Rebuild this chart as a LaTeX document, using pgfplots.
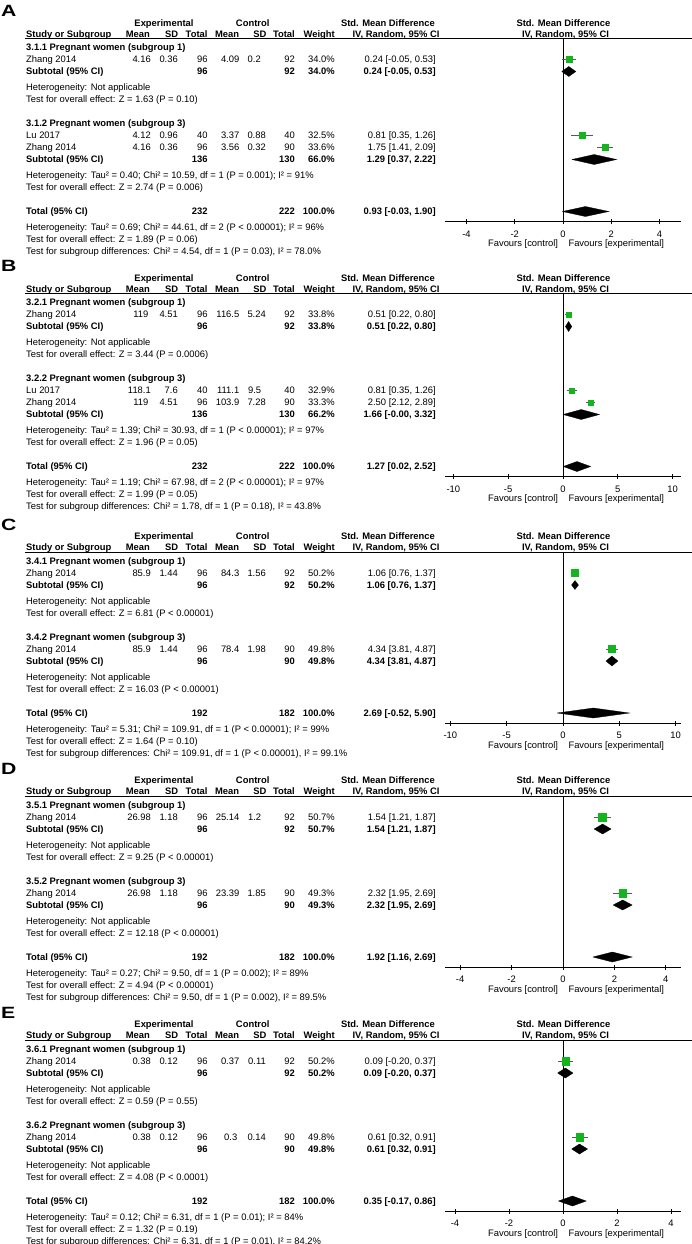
\documentclass[border=0pt]{standalone}
\usepackage{fontspec}
\setmainfont{Liberation Sans}
\usepackage{graphicx}
\usepackage{pgfplots}
\pgfplotsset{compat=1.18}
\definecolor{fgreen}{RGB}{20,180,30}
\newcommand\fs{\fontsize{9.4}{11}\selectfont}
\tikzset{tx/.style={inner sep=0pt, font=\fs}}
% text helpers: x in px, row offset (down) from the panel's header line
\newcommand\TL[3]{\node[tx, anchor=base west] at (#1pt,{-(#2+3.3)*1pt}) {#3};}
\newcommand\TR[3]{\node[tx, anchor=base east] at (#1pt,{-(#2+3.3)*1pt}) {#3};}
\newcommand\TC[3]{\node[tx, anchor=base] at (#1pt,{-(#2+3.3)*1pt}) {#3};}
\newcommand\srow[9]{\TL{26}{#1}{#2}\TR{151}{#1}{#3}\TR{178}{#1}{#4}\TR{207.7}{#1}{#5}%
  \TR{239.5}{#1}{#6}\TR{266}{#1}{#7}\TR{295}{#1}{#8}\TR{335}{#1}{#9}}
\newcommand\ci[2]{\TR{436}{#1}{#2}}
\newcommand\subrow[4]{\TL{26}{#1}{\bfseries Subtotal (95\% CI)}\TR{207.7}{#1}{\bfseries #2}%
  \TR{295}{#1}{\bfseries #3}\TR{335}{#1}{\bfseries #4}}
\newcommand\totrow[3]{\TL{26}{#1}{\bfseries Total (95\% CI)}\TR{207.7}{#1}{\bfseries #2}%
  \TR{295}{#1}{\bfseries #3}\TR{335}{#1}{\bfseries 100.0\%}}
\newcommand\fav[1]{\TR{558.3}{#1+22}{Favours [control]}\TL{568.3}{#1+22}{Favours [experimental]}}
\newcommand\plabel[1]{\node[inner sep=0pt, anchor=base west] at (1pt,22pt)
  {\scalebox{1.3}[1]{\fontsize{16.3}{18}\selectfont\bfseries #1}};}
\newcommand\hdr{%
  \TC{164}{-15.5}{\bfseries Experimental}\TC{252.7}{-15.5}{\bfseries Control}%
  \TC{388}{-15.5}{\bfseries Std. Mean Difference}\TC{563.5}{-15.5}{\bfseries Std. Mean Difference}%
  \TL{26}{-4.5}{\bfseries Study or Subgroup}\TR{150}{-4.5}{\bfseries Mean}%
  \TR{178.3}{-4.5}{\bfseries SD}\TR{207.7}{-4.5}{\bfseries Total}%
  \TR{239.3}{-4.5}{\bfseries Mean}\TR{266.7}{-4.5}{\bfseries SD}%
  \TR{295}{-4.5}{\bfseries Total}\TR{335}{-4.5}{\bfseries Weight}%
  \TC{396}{-4.5}{\bfseries IV, Random, 95\% CI}\TC{565.5}{-4.5}{\bfseries IV, Random, 95\% CI}%
  \draw[line width=0.7pt] (25pt,0pt) -- (692pt,0pt);}
\pgfplotsset{
  forest/.style={scale only axis, width=236pt, anchor=south west, clip=false,
    axis x line*=bottom, axis y line=none, ymax=0,
    tick align=center, major tick length=5pt,
    axis line style={line width=0.7pt}, xtick style={line width=0.7pt, black},
    xticklabel style={font=\fs, anchor=base, yshift=-13.3pt, inner sep=0pt},
    /pgf/number format/assume math mode=true},
  zl/.style={black, line width=0.7pt},
  cil/.style={black!65, line width=0.7pt},
  sq/.style={only marks, mark=square*, color=fgreen, mark options={draw=fgreen, fill=fgreen}},
  dia/.style={fill=black, draw=black, line width=0.3pt}
}
\begin{document}
\begin{tikzpicture}
\useasboundingbox (0pt,0pt) rectangle (692pt,-1244pt);

% ---------------- A ----------------
\begin{scope}[yshift=-38.5pt]
\plabel{A}\hdr
\TL{26}{9}{\bfseries 3.1.1 Pregnant women (subgroup 1)}
\srow{21}{Zhang 2014}{4.16}{0.36}{96}{4.09}{0.2\kern5pt}{92}{34.0\%}\ci{21}{0.24 [-0.05, 0.53]}
\subrow{33}{96}{92}{34.0\%}\ci{33}{\bfseries 0.24 [-0.05, 0.53]}
\TL{26}{49}{Heterogeneity: Not applicable}
\TL{26}{61}{Test for overall effect: Z = 1.63 (P = 0.10)}
\TL{26}{85}{\bfseries 3.1.2 Pregnant women (subgroup 3)}
\srow{97}{Lu 2017}{4.12}{0.96}{40}{3.37}{0.88}{40}{32.5\%}\ci{97}{0.81 [0.35, 1.26]}
\srow{109}{Zhang 2014}{4.16}{0.36}{96}{3.56}{0.32}{90}{33.6\%}\ci{109}{1.75 [1.41, 2.09]}
\subrow{121}{136}{130}{66.0\%}\ci{121}{\bfseries 1.29 [0.37, 2.22]}
\TL{26}{137}{Heterogeneity: Tau² = 0.40; Chi² = 10.59, df = 1 (P = 0.001); I² = 91\%}
\TL{26}{149}{Test for overall effect: Z = 2.74 (P = 0.006)}
\totrow{173}{232}{222}\ci{173}{\bfseries 0.93 [-0.03, 1.90]}
\TL{26}{189}{Heterogeneity: Tau² = 0.69; Chi² = 44.61, df = 2 (P < 0.00001); I² = 96\%}
\TL{26}{201}{Test for overall effect: Z = 1.89 (P = 0.06)}
\TL{26}{213}{Test for subgroup differences: Chi² = 4.54, df = 1 (P = 0.03), I² = 78.0\%}
\fav{183}
\begin{axis}[forest, at={(445pt,-183pt)}, height=183pt, ymin=-183,
  xmin=-4.89, xmax=4.89, xtick={-4,-2,0,2,4}]
\addplot[zl] coordinates {(0,-183) (0,0)};
\addplot[cil] coordinates {(-0.05,-21) (0.53,-21)};
\addplot[sq, mark size=3pt] coordinates {(0.24,-21)};
\addplot[dia] coordinates {(-0.05,-33) (0.24,-28) (0.53,-33) (0.24,-38) (-0.05,-33)};
\addplot[cil] coordinates {(0.35,-97) (1.26,-97)};
\addplot[sq, mark size=3pt] coordinates {(0.81,-97)};
\addplot[cil] coordinates {(1.41,-109) (2.09,-109)};
\addplot[sq, mark size=3pt] coordinates {(1.75,-109)};
\addplot[dia] coordinates {(0.37,-121) (1.29,-116) (2.22,-121) (1.29,-126) (0.37,-121)};
\addplot[dia] coordinates {(-0.03,-173) (0.93,-168) (1.90,-173) (0.93,-178) (-0.03,-173)};
\end{axis}
\end{scope}

% ---------------- B ----------------
\begin{scope}[yshift=-293.5pt]
\plabel{B}\hdr
\TL{26}{9}{\bfseries 3.2.1 Pregnant women (subgroup 1)}
\srow{21}{Zhang 2014}{119\kern2.5pt}{4.51}{96}{116.5}{5.24}{92}{33.8\%}\ci{21}{0.51 [0.22, 0.80]}
\subrow{33}{96}{92}{33.8\%}\ci{33}{\bfseries 0.51 [0.22, 0.80]}
\TL{26}{49}{Heterogeneity: Not applicable}
\TL{26}{61}{Test for overall effect: Z = 3.44 (P = 0.0006)}
\TL{26}{85}{\bfseries 3.2.2 Pregnant women (subgroup 3)}
\srow{97}{Lu 2017}{118.1}{7.6}{40}{111.1}{9.5\kern4.7pt}{40}{32.9\%}\ci{97}{0.81 [0.35, 1.26]}
\srow{109}{Zhang 2014}{119\kern2.5pt}{4.51}{96}{103.9}{7.28}{90}{33.3\%}\ci{109}{2.50 [2.12, 2.89]}
\subrow{121}{136}{130}{66.2\%}\ci{121}{\bfseries 1.66 [-0.00, 3.32]}
\TL{26}{137}{Heterogeneity: Tau² = 1.39; Chi² = 30.93, df = 1 (P < 0.00001); I² = 97\%}
\TL{26}{149}{Test for overall effect: Z = 1.96 (P = 0.05)}
\totrow{173}{232}{222}\ci{173}{\bfseries 1.27 [0.02, 2.52]}
\TL{26}{189}{Heterogeneity: Tau² = 1.19; Chi² = 67.98, df = 2 (P < 0.00001); I² = 97\%}
\TL{26}{201}{Test for overall effect: Z = 1.99 (P = 0.05)}
\TL{26}{213}{Test for subgroup differences: Chi² = 1.78, df = 1 (P = 0.18), I² = 43.8\%}
\fav{183}
\begin{axis}[forest, at={(445pt,-183pt)}, height=183pt, ymin=-183,
  xmin=-10.76, xmax=10.76, xtick={-10,-5,0,5,10}]
\addplot[zl] coordinates {(0,-183) (0,0)};
\addplot[cil] coordinates {(0.22,-21) (0.80,-21)};
\addplot[sq, mark size=2.6pt] coordinates {(0.51,-21)};
\addplot[dia] coordinates {(0.22,-33) (0.51,-28) (0.80,-33) (0.51,-38) (0.22,-33)};
\addplot[cil] coordinates {(0.35,-97) (1.26,-97)};
\addplot[sq, mark size=2.6pt] coordinates {(0.81,-97)};
\addplot[cil] coordinates {(2.12,-109) (2.89,-109)};
\addplot[sq, mark size=2.6pt] coordinates {(2.50,-109)};
\addplot[dia] coordinates {(-0.00,-121) (1.66,-116) (3.32,-121) (1.66,-126) (-0.00,-121)};
\addplot[dia] coordinates {(0.02,-173) (1.27,-168) (2.52,-173) (1.27,-178) (0.02,-173)};
\end{axis}
\end{scope}

% ---------------- C ----------------
\begin{scope}[yshift=-552pt]
\plabel{C}\hdr
\TL{26}{9}{\bfseries 3.4.1 Pregnant women (subgroup 1)}
\srow{21}{Zhang 2014}{85.9}{1.44}{96}{84.3}{1.56}{92}{50.2\%}\ci{21}{1.06 [0.76, 1.37]}
\subrow{33}{96}{92}{50.2\%}\ci{33}{\bfseries 1.06 [0.76, 1.37]}
\TL{26}{49}{Heterogeneity: Not applicable}
\TL{26}{61}{Test for overall effect: Z = 6.81 (P < 0.00001)}
\TL{26}{85}{\bfseries 3.4.2 Pregnant women (subgroup 3)}
\srow{97}{Zhang 2014}{85.9}{1.44}{96}{78.4}{1.98}{90}{49.8\%}\ci{97}{4.34 [3.81, 4.87]}
\subrow{109}{96}{90}{49.8\%}\ci{109}{\bfseries 4.34 [3.81, 4.87]}
\TL{26}{125}{Heterogeneity: Not applicable}
\TL{26}{137}{Test for overall effect: Z = 16.03 (P < 0.00001)}
\totrow{161}{192}{182}\ci{161}{\bfseries 2.69 [-0.52, 5.90]}
\TL{26}{177}{Heterogeneity: Tau² = 5.31; Chi² = 109.91, df = 1 (P < 0.00001); I² = 99\%}
\TL{26}{189}{Test for overall effect: Z = 1.64 (P = 0.10)}
\TL{26}{201}{Test for subgroup differences: Chi² = 109.91, df = 1 (P < 0.00001), I² = 99.1\%}
\fav{171}
\begin{axis}[forest, at={(445pt,-171pt)}, height=171pt, ymin=-171,
  xmin=-10.47, xmax=10.47, xtick={-10,-5,0,5,10}]
\addplot[zl] coordinates {(0,-171) (0,0)};
\addplot[cil] coordinates {(0.76,-21) (1.37,-21)};
\addplot[sq, mark size=3.6pt] coordinates {(1.06,-21)};
\addplot[dia] coordinates {(0.76,-33) (1.06,-28.5) (1.37,-33) (1.06,-37.5) (0.76,-33)};
\addplot[cil] coordinates {(3.81,-97) (4.87,-97)};
\addplot[sq, mark size=3.6pt] coordinates {(4.34,-97)};
\addplot[dia] coordinates {(3.81,-109) (4.34,-104) (4.87,-109) (4.34,-114) (3.81,-109)};
\addplot[dia] coordinates {(-0.52,-161) (2.69,-156) (5.90,-161) (2.69,-166) (-0.52,-161)};
\end{axis}
\end{scope}

% ---------------- D ----------------
\begin{scope}[yshift=-796pt]
\plabel{D}\hdr
\TL{26}{9}{\bfseries 3.5.1 Pregnant women (subgroup 1)}
\srow{21}{Zhang 2014}{26.98}{1.18}{96}{25.14}{1.2\kern4.7pt}{92}{50.7\%}\ci{21}{1.54 [1.21, 1.87]}
\subrow{33}{96}{92}{50.7\%}\ci{33}{\bfseries 1.54 [1.21, 1.87]}
\TL{26}{49}{Heterogeneity: Not applicable}
\TL{26}{61}{Test for overall effect: Z = 9.25 (P < 0.00001)}
\TL{26}{85}{\bfseries 3.5.2 Pregnant women (subgroup 3)}
\srow{97}{Zhang 2014}{26.98}{1.18}{96}{23.39}{1.85}{90}{49.3\%}\ci{97}{2.32 [1.95, 2.69]}
\subrow{109}{96}{90}{49.3\%}\ci{109}{\bfseries 2.32 [1.95, 2.69]}
\TL{26}{125}{Heterogeneity: Not applicable}
\TL{26}{137}{Test for overall effect: Z = 12.18 (P < 0.00001)}
\totrow{161}{192}{182}\ci{161}{\bfseries 1.92 [1.16, 2.69]}
\TL{26}{177}{Heterogeneity: Tau² = 0.27; Chi² = 9.50, df = 1 (P = 0.002); I² = 89\%}
\TL{26}{189}{Test for overall effect: Z = 4.94 (P < 0.00001)}
\TL{26}{201}{Test for subgroup differences: Chi² = 9.50, df = 1 (P = 0.002), I² = 89.5\%}
\fav{171}
\begin{axis}[forest, at={(445pt,-171pt)}, height=171pt, ymin=-171,
  xmin=-4.59, xmax=4.59, xtick={-4,-2,0,2,4}]
\addplot[zl] coordinates {(0,-171) (0,0)};
\addplot[cil] coordinates {(1.21,-21) (1.87,-21)};
\addplot[sq, mark size=3.9pt] coordinates {(1.54,-21)};
\addplot[dia] coordinates {(1.21,-33) (1.54,-28) (1.87,-33) (1.54,-38) (1.21,-33)};
\addplot[cil] coordinates {(1.95,-97) (2.69,-97)};
\addplot[sq, mark size=3.9pt] coordinates {(2.32,-97)};
\addplot[dia] coordinates {(1.95,-109) (2.32,-104) (2.69,-109) (2.32,-114) (1.95,-109)};
\addplot[dia] coordinates {(1.16,-161) (1.92,-156) (2.69,-161) (1.92,-166) (1.16,-161)};
\end{axis}
\end{scope}

% ---------------- E ----------------
\begin{scope}[yshift=-1040pt]
\plabel{E}\hdr
\TL{26}{9}{\bfseries 3.6.1 Pregnant women (subgroup 1)}
\srow{21}{Zhang 2014}{0.38}{0.12}{96}{0.37}{0.11}{92}{50.2\%}\ci{21}{0.09 [-0.20, 0.37]}
\subrow{33}{96}{92}{50.2\%}\ci{33}{\bfseries 0.09 [-0.20, 0.37]}
\TL{26}{49}{Heterogeneity: Not applicable}
\TL{26}{61}{Test for overall effect: Z = 0.59 (P = 0.55)}
\TL{26}{85}{\bfseries 3.6.2 Pregnant women (subgroup 3)}
\srow{97}{Zhang 2014}{0.38}{0.12}{96}{0.3\kern2pt}{0.14}{90}{49.8\%}\ci{97}{0.61 [0.32, 0.91]}
\subrow{109}{96}{90}{49.8\%}\ci{109}{\bfseries 0.61 [0.32, 0.91]}
\TL{26}{125}{Heterogeneity: Not applicable}
\TL{26}{137}{Test for overall effect: Z = 4.08 (P < 0.0001)}
\totrow{161}{192}{182}\ci{161}{\bfseries 0.35 [-0.17, 0.86]}
\TL{26}{177}{Heterogeneity: Tau² = 0.12; Chi² = 6.31, df = 1 (P = 0.01); I² = 84\%}
\TL{26}{189}{Test for overall effect: Z = 1.32 (P = 0.19)}
\TL{26}{201}{Test for subgroup differences: Chi² = 6.31, df = 1 (P = 0.01), I² = 84.2\%}
\fav{171}
\begin{axis}[forest, at={(445pt,-171pt)}, height=171pt, ymin=-171,
  xmin=-4.37, xmax=4.37, xtick={-4,-2,0,2,4}]
\addplot[zl] coordinates {(0,-171) (0,0)};
\addplot[cil] coordinates {(-0.20,-21) (0.37,-21)};
\addplot[sq, mark size=3.7pt] coordinates {(0.09,-21)};
\addplot[dia] coordinates {(-0.20,-33) (0.09,-28) (0.37,-33) (0.09,-38) (-0.20,-33)};
\addplot[cil] coordinates {(0.32,-97) (0.91,-97)};
\addplot[sq, mark size=3.7pt] coordinates {(0.61,-97)};
\addplot[dia] coordinates {(0.32,-109) (0.61,-104) (0.91,-109) (0.61,-114) (0.32,-109)};
\addplot[dia] coordinates {(-0.17,-161) (0.35,-156) (0.86,-161) (0.35,-166) (-0.17,-161)};
\end{axis}
\end{scope}
\end{tikzpicture}
\end{document}
